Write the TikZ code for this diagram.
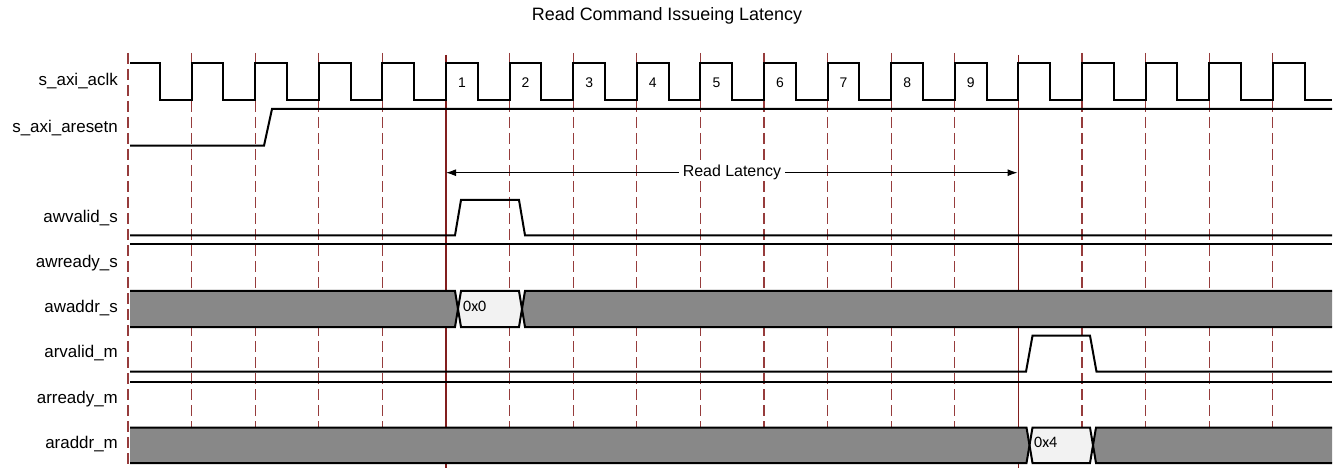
\documentclass[tikz,border=0pt]{standalone}
\usepackage{fontspec}
\setmainfont{Liberation Sans}
\newfontfamily\calfont{Carlito}
\usetikzlibrary{arrows.meta}
\definecolor{gridred}{RGB}{150,60,60}
\definecolor{solidred}{RGB}{130,30,30}
\definecolor{busgray}{RGB}{136,136,136}
\definecolor{buslight}{RGB}{242,242,242}
\tikzset{
  x=1bp, y=-1bp,
  wave/.style={line width=2bp, line join=miter, black},
  gridline/.style={gridred, line width=1.3bp, dash pattern=on 11bp off 5bp},
  markline/.style={solidred, line width=1.1bp},
  siglabel/.style={anchor=mid east, inner sep=0pt, font=\fontsize{17}{19}\selectfont},
  clknum/.style={inner sep=0pt, font=\fontsize{14}{16}\selectfont},
  busval/.style={anchor=mid west, inner sep=0pt, font=\calfont\fontsize{16}{18}\selectfont},
}
\begin{document}
\begin{tikzpicture}
\useasboundingbox (0,0) rectangle (1338,468);
% title
\node[font=\fontsize{18}{20}\selectfont, inner sep=0pt] (title) at (667,16) {Read Command Issueing Latency};
% grid
\foreach \k in {0,...,18}{
  \pgfmathsetmacro{\xx}{128+63.6*\k}
  \ifnum\k=5\relax
    \draw[markline] (\xx,55) -- (\xx,468);
  \else\ifnum\k=14\relax
    \draw[markline] (\xx,55) -- (\xx,468);
  \else
    \draw[gridline] (\xx,53) -- (\xx,468);
  \fi\fi
}
% labels
\node[siglabel] (l1) at (118,83) {s\_axi\_aclk};
\node[siglabel] (l2) at (118,130) {s\_axi\_aresetn};
\node[siglabel] (l3) at (118,220) {awvalid\_s};
\node[siglabel] (l4) at (118,265) {awready\_s};
\node[siglabel] (l5) at (118,310) {awaddr\_s};
\node[siglabel] (l6) at (118,355) {arvalid\_m};
\node[siglabel] (l7) at (118,401) {arready\_m};
\node[siglabel] (l8) at (118,446) {araddr\_m};
% clock
\draw[wave] (130,63)
  foreach \k in {0,...,17} {
    -- ({128+63.6*\k+31.8},63) -- ({128+63.6*\k+31.8},100)
    -- ({128+63.6*(\k+1)},100) -- ({128+63.6*(\k+1)},63)
  } -- (1304.6,63) -- (1304.6,100) -- (1332,100);
\foreach \n in {1,...,9}{
  \node[clknum] (c\n) at ({128+63.6*(\n+4)+16},83) {\n};
}
% reset
\draw[wave] (130,145.7) -- (264,145.7) -- (272,109) -- (1332,109);
% latency arrow
\coordinate (latL) at (446,172.7);
\coordinate (latR) at (1017.5,172.7);
\draw[line width=1bp, {Latex[length=10bp,width=7bp]}-{Latex[length=10bp,width=7bp]}] (latL) -- (latR);
\node[fill=white, inner xsep=4bp, inner ysep=1bp, font=\fontsize{16}{18}\selectfont] (lat) at (732,172.7) {Read Latency};
% awvalid_s
\draw[wave] (130,235.3) -- (455,235.3) -- (461,200) -- (519,200) -- (525,235.3) -- (1332,235.3);
% awready_s
\draw[wave] (130,244.5) -- (1332,244.5);
% awaddr_s
\fill[busgray] (130,291) -- (455,291) -- (458,309) -- (455,327) -- (130,327) -- cycle;
\fill[buslight] (461,291) -- (519,291) -- (522,309) -- (519,327) -- (461,327) -- (458,309) -- cycle;
\fill[busgray] (525,291) -- (1332,291) -- (1332,327) -- (525,327) -- (522,309) -- cycle;
\draw[wave] (130,291) -- (455,291) -- (461,327) -- (519,327) -- (525,291) -- (1332,291);
\draw[wave] (130,327) -- (455,327) -- (461,291) -- (519,291) -- (525,327) -- (1332,327);
\node[busval] (v0) at (463,309) {0x0};
% arvalid_m
\draw[wave] (130,371.7) -- (1026,371.7) -- (1032.5,335.7) -- (1090,335.7) -- (1096.5,371.7) -- (1332,371.7);
% arready_m
\draw[wave] (130,381.5) -- (1332,381.5);
% araddr_m
\fill[busgray] (130,427.5) -- (1026.5,427.5) -- (1029.5,445.2) -- (1026.5,463) -- (130,463) -- cycle;
\fill[buslight] (1032.5,427.5) -- (1090,427.5) -- (1093,445.2) -- (1090,463) -- (1032.5,463) -- (1029.5,445.2) -- cycle;
\fill[busgray] (1096,427.5) -- (1332,427.5) -- (1332,463) -- (1096,463) -- (1093,445.2) -- cycle;
\draw[wave] (130,427.5) -- (1026.5,427.5) -- (1032.5,463) -- (1090,463) -- (1096,427.5) -- (1332,427.5);
\draw[wave] (130,463) -- (1026.5,463) -- (1032.5,427.5) -- (1090,427.5) -- (1096,463) -- (1332,463);
\node[busval] (v4) at (1034,445.2) {0x4};
\end{tikzpicture}
\end{document}
